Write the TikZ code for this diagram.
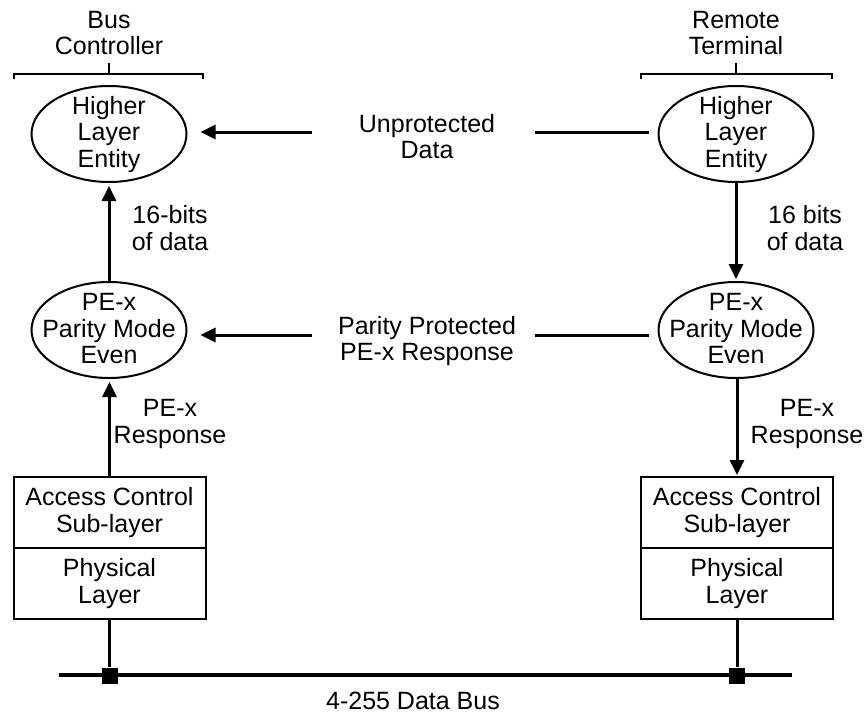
\documentclass[tikz,border=0pt]{standalone}
\usepackage{fontspec}
\setmainfont{Liberation Sans}
\usetikzlibrary{shapes.geometric,arrows.meta}
\begin{document}
\begin{tikzpicture}[x=1pt,y=-1pt,
  every node/.style={font=\fontsize{25}{26.5}\selectfont, align=center, inner sep=0pt},
  entity/.style={ellipse, draw, line width=2pt, minimum width=155pt, minimum height=96pt},
  layerbox/.style={rectangle, draw, line width=2pt, minimum width=192pt, minimum height=71pt},
  conn/.style={line width=3pt, -{Triangle[length=15pt,width=14pt]}},
  wire/.style={line width=3pt},
  bracket/.style={line width=2pt},
  tap/.style={rectangle, fill=black, minimum size=16pt}]
\useasboundingbox (0,0) rectangle (866,717);

% column headings with their brackets
\node (bcLabel) at (109,33) {Bus\\Controller};
\node (rtLabel) at (736,33) {Remote\\Terminal};
\draw[bracket] (14,79) -- (14,74) -- (203,74) -- (203,79);
\draw[bracket] (109,74) -- (109,63);
\draw[bracket] (641,79) -- (641,74) -- (832,74) -- (832,79);
\draw[bracket] (736,74) -- (736,63);

% higher layer entities
\node[entity] (hleL) at (109,134) {};
\node (hleLtext) at (109,134.5) {Higher\\Layer\\Entity};
\node[entity] (hleR) at (736,134) {};
\node (hleRtext) at (736,134.5) {Higher\\Layer\\Entity};

% parity protection entities
\node[entity] (peL) at (109,330) {};
\node (peLtext) at (109,329) {PE-x\\Parity Mode\\Even};
\node[entity] (peR) at (736,330) {};
\node (peRtext) at (736,329) {PE-x\\Parity Mode\\Even};

% lower layers
\node[layerbox] (accL) at (109.5,512.5) {Access Control\\Sub-layer};
\node[layerbox] (phyL) at (109.5,583.5) {Physical\\Layer};
\node[layerbox] (accR) at (737,512.5) {Access Control\\Sub-layer};
\node[layerbox] (phyR) at (737,583.5) {Physical\\Layer};

% data bus
\coordinate (busW) at (59,675);
\coordinate (busE) at (792,675);
\draw[line width=3.6pt] (busW) -- (busE);
\node[tap] (tapL) at (109.5,675.5) {};
\node[tap] (tapR) at (737,675.5) {};
\draw[wire] (phyL.south) -- (tapL);
\draw[wire] (phyR.south) -- (tapR);
\node (busLabel) at (413,701) {4-255 Data Bus};

% peer-to-peer flows
\node (udata) at (427,136.5) {Unprotected\\Data};
\coordinate (u1) at (312,132);
\coordinate (u2) at (535,132);
\draw[conn, shorten >=13pt] (u1) -- (u1 -| hleL.east);
\draw[wire, shorten >=9pt] (u2) -- (u2 -| hleR.west);

\node (pprot) at (427,341) {Parity Protected\\PE-x Response};
\coordinate (p1) at (312,335);
\coordinate (p2) at (535,335);
\draw[conn, shorten >=13pt] (p1) -- (p1 -| peL.east);
\draw[wire, shorten >=9pt] (p2) -- (p2 -| peR.west);

% vertical flows, bus controller side
\draw[conn, shorten >=3pt] (peL.north) -- (hleL.south);
\draw[conn, shorten >=3pt] (accL.north) -- (accL.north |- peL.south);
\node (bitsL) at (170,228) {16-bits\\of data};
\node (respL) at (170,424) {PE-x\\Response};

% vertical flows, remote terminal side
\draw[conn, shorten >=2pt] (hleR.south) -- (peR.north);
\draw[conn, shorten >=1pt] (peR.south -| accR.north) -- (accR.north);
\node (bitsR) at (805,228) {16 bits\\of data};
\node (respR) at (807,424) {PE-x\\Response};
\end{tikzpicture}
\end{document}
